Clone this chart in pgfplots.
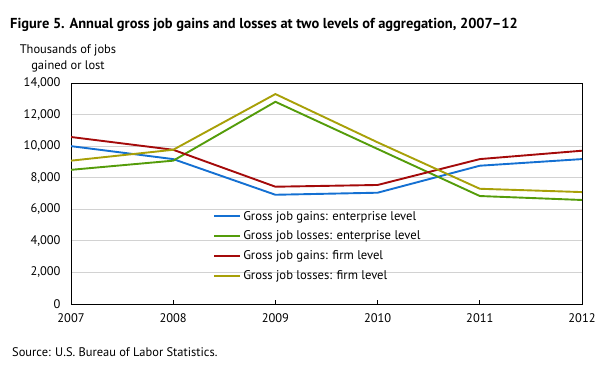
\documentclass[border=0pt]{standalone}
\usepackage{fontspec}
\setmainfont{PT Sans}
\usepackage{pgfplots}
\pgfplotsset{compat=1.18}
\definecolor{cblue}{RGB}{20,112,210}
\definecolor{cgreen}{RGB}{84,156,10}
\definecolor{cred}{RGB}{164,10,10}
\definecolor{colive}{RGB}{168,160,8}
\begin{document}
\begin{tikzpicture}[x=1bp,y=1bp]
\useasboundingbox (-71,-69) rectangle (533,304);
\begin{axis}[
  at={(0,0)}, anchor=south west,
  scale only axis, width=511bp, height=221bp,
  xmin=2007, xmax=2012, ymin=0, ymax=14000,
  scaled y ticks=false, scaled x ticks=false,
  xtick={2007,2008,2009,2010,2011,2012},
  xticklabels={2007,2008,2009,2010,2011,2012},
  ytick={0,2000,4000,6000,8000,10000,12000,14000},
  yticklabels={0,{2,000},{4,000},{6,000},{8,000},{10,000},{12,000},{14,000}},
  xtick pos=bottom, tick align=inside, major tick length=4bp,
  ytick style={draw=none},
  xtick style={black, line width=0.8bp},
  ymajorgrids, grid style={gray!35, line width=0.8bp},
  axis line style={black, line width=0.9bp},
  tick label style={font=\fontsize{12.5}{14}\selectfont},
  yticklabel style={xshift=-7bp},
  xticklabel style={yshift=-6bp},
  legend style={draw=none, fill=none, at={(0.278,0.43)}, anchor=north west,
    font=\fontsize{12.7}{14}\selectfont, row sep=5.3bp, inner sep=0pt},
  legend cell align=left,
  legend image code/.code={\draw[#1, line width=2bp] (0bp,0bp) -- (26bp,0bp);},
]
\addplot[cblue, line width=1.9bp] coordinates {(2007,10000) (2008,9180) (2009,6920) (2010,7050) (2011,8760) (2012,9180)};
\addlegendentry{Gross job gains: enterprise level}
\addplot[cgreen, line width=1.9bp] coordinates {(2007,8500) (2008,9080) (2009,12810) (2010,9820) (2011,6840) (2012,6590)};
\addlegendentry{Gross job losses: enterprise level}
\addplot[cred, line width=1.9bp] coordinates {(2007,10580) (2008,9770) (2009,7430) (2010,7540) (2011,9180) (2012,9710)};
\addlegendentry{Gross job gains: firm level}
\addplot[colive, line width=1.9bp] coordinates {(2007,9080) (2008,9770) (2009,13300) (2010,10240) (2011,7300) (2012,7090)};
\addlegendentry{Gross job losses: firm level}
\end{axis}
\node[anchor=base west, inner sep=0pt, font=\bfseries\fontsize{14.5}{17}\selectfont] at (-61,276) {Figure 5. Annual gross job gains and losses at two levels of aggregation, 2007--12};
\node[anchor=base, inner sep=0pt, font=\fontsize{12.5}{14}\selectfont] at (-3,251) {Thousands of jobs};
\node[anchor=base, inner sep=0pt, font=\fontsize{12.5}{14}\selectfont] at (-3,235) {gained or lost};
\node[anchor=base west, inner sep=0pt, font=\fontsize{12.5}{14}\selectfont] at (-59,-52) {Source: U.S. Bureau of Labor Statistics.};
\end{tikzpicture}
\end{document}
